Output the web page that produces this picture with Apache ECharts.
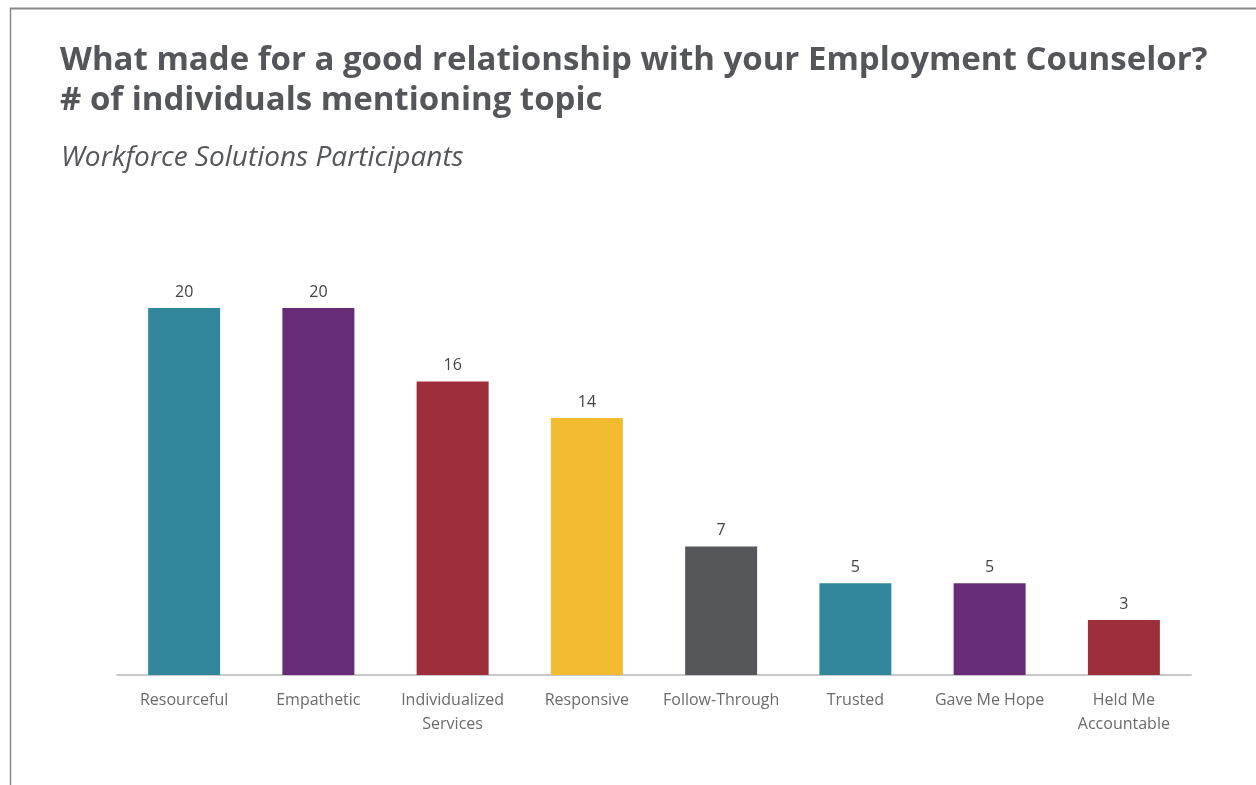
<!DOCTYPE html>
<html><head><meta charset="utf-8">
<script src="https://cdn.jsdelivr.net/npm/echarts@6/dist/echarts.min.js"></script>
<style>html,body{margin:0;padding:0;background:#fff}#c{width:1256px;height:785px}</style>
</head><body><div id="c"></div>
<script>
const categories = ['Resourceful','Empathetic','Individualized\nServices','Responsive','Follow-Through','Trusted','Gave Me Hope','Held Me\nAccountable'];
const values = [20,20,16,14,7,5,5,3];
const colors = ['#33879c','#682c77','#9e2e3a','#f2bb30','#55575b','#33879c','#682c77','#9e2e3a'];

const chart = echarts.init(document.getElementById('c'));
chart.setOption({
  animation:false,
  title:[
    {text:'What made for a good relationship with your Employment Counselor?\n# of individuals mentioning topic', left:55, top:36,
     textStyle:{fontFamily:'Open Sans',fontWeight:'bold',fontSize:33,lineHeight:40,color:'#54565a'}},
    {text:'Workforce Solutions Participants', left:56, top:139,
     textStyle:{fontFamily:'Open Sans',fontStyle:'italic',fontWeight:'normal',fontSize:28,color:'#54565a'}}
  ],
  graphic:[
    {type:'line',shape:{x1:10,y1:8.5,x2:1256,y2:8.5},style:{stroke:'#888',lineWidth:2}},
    {type:'line',shape:{x1:10.5,y1:8,x2:10.5,y2:785},style:{stroke:'#888',lineWidth:1.5}}
  ],
  grid:{left:117,right:65,top:308,bottom:110},
  xAxis:{type:'category',data:categories,
    axisLine:{lineStyle:{color:'#c8c8c8',width:2}},axisTick:{show:false},
    axisLabel:{interval:0,fontFamily:'Open Sans',fontSize:16,color:'#6b6b6b',lineHeight:24,margin:13}},
  yAxis:{type:'value',min:0,max:20,show:false,splitLine:{show:false}},
  series:[{type:'bar',data:values.map((v,i)=>({value:v,itemStyle:{color:colors[i]}})),
    barWidth:72,
    label:{show:true,position:'top',distance:8,fontFamily:'Open Sans',fontSize:16,color:'#444'}}]
});
</script></body></html>
